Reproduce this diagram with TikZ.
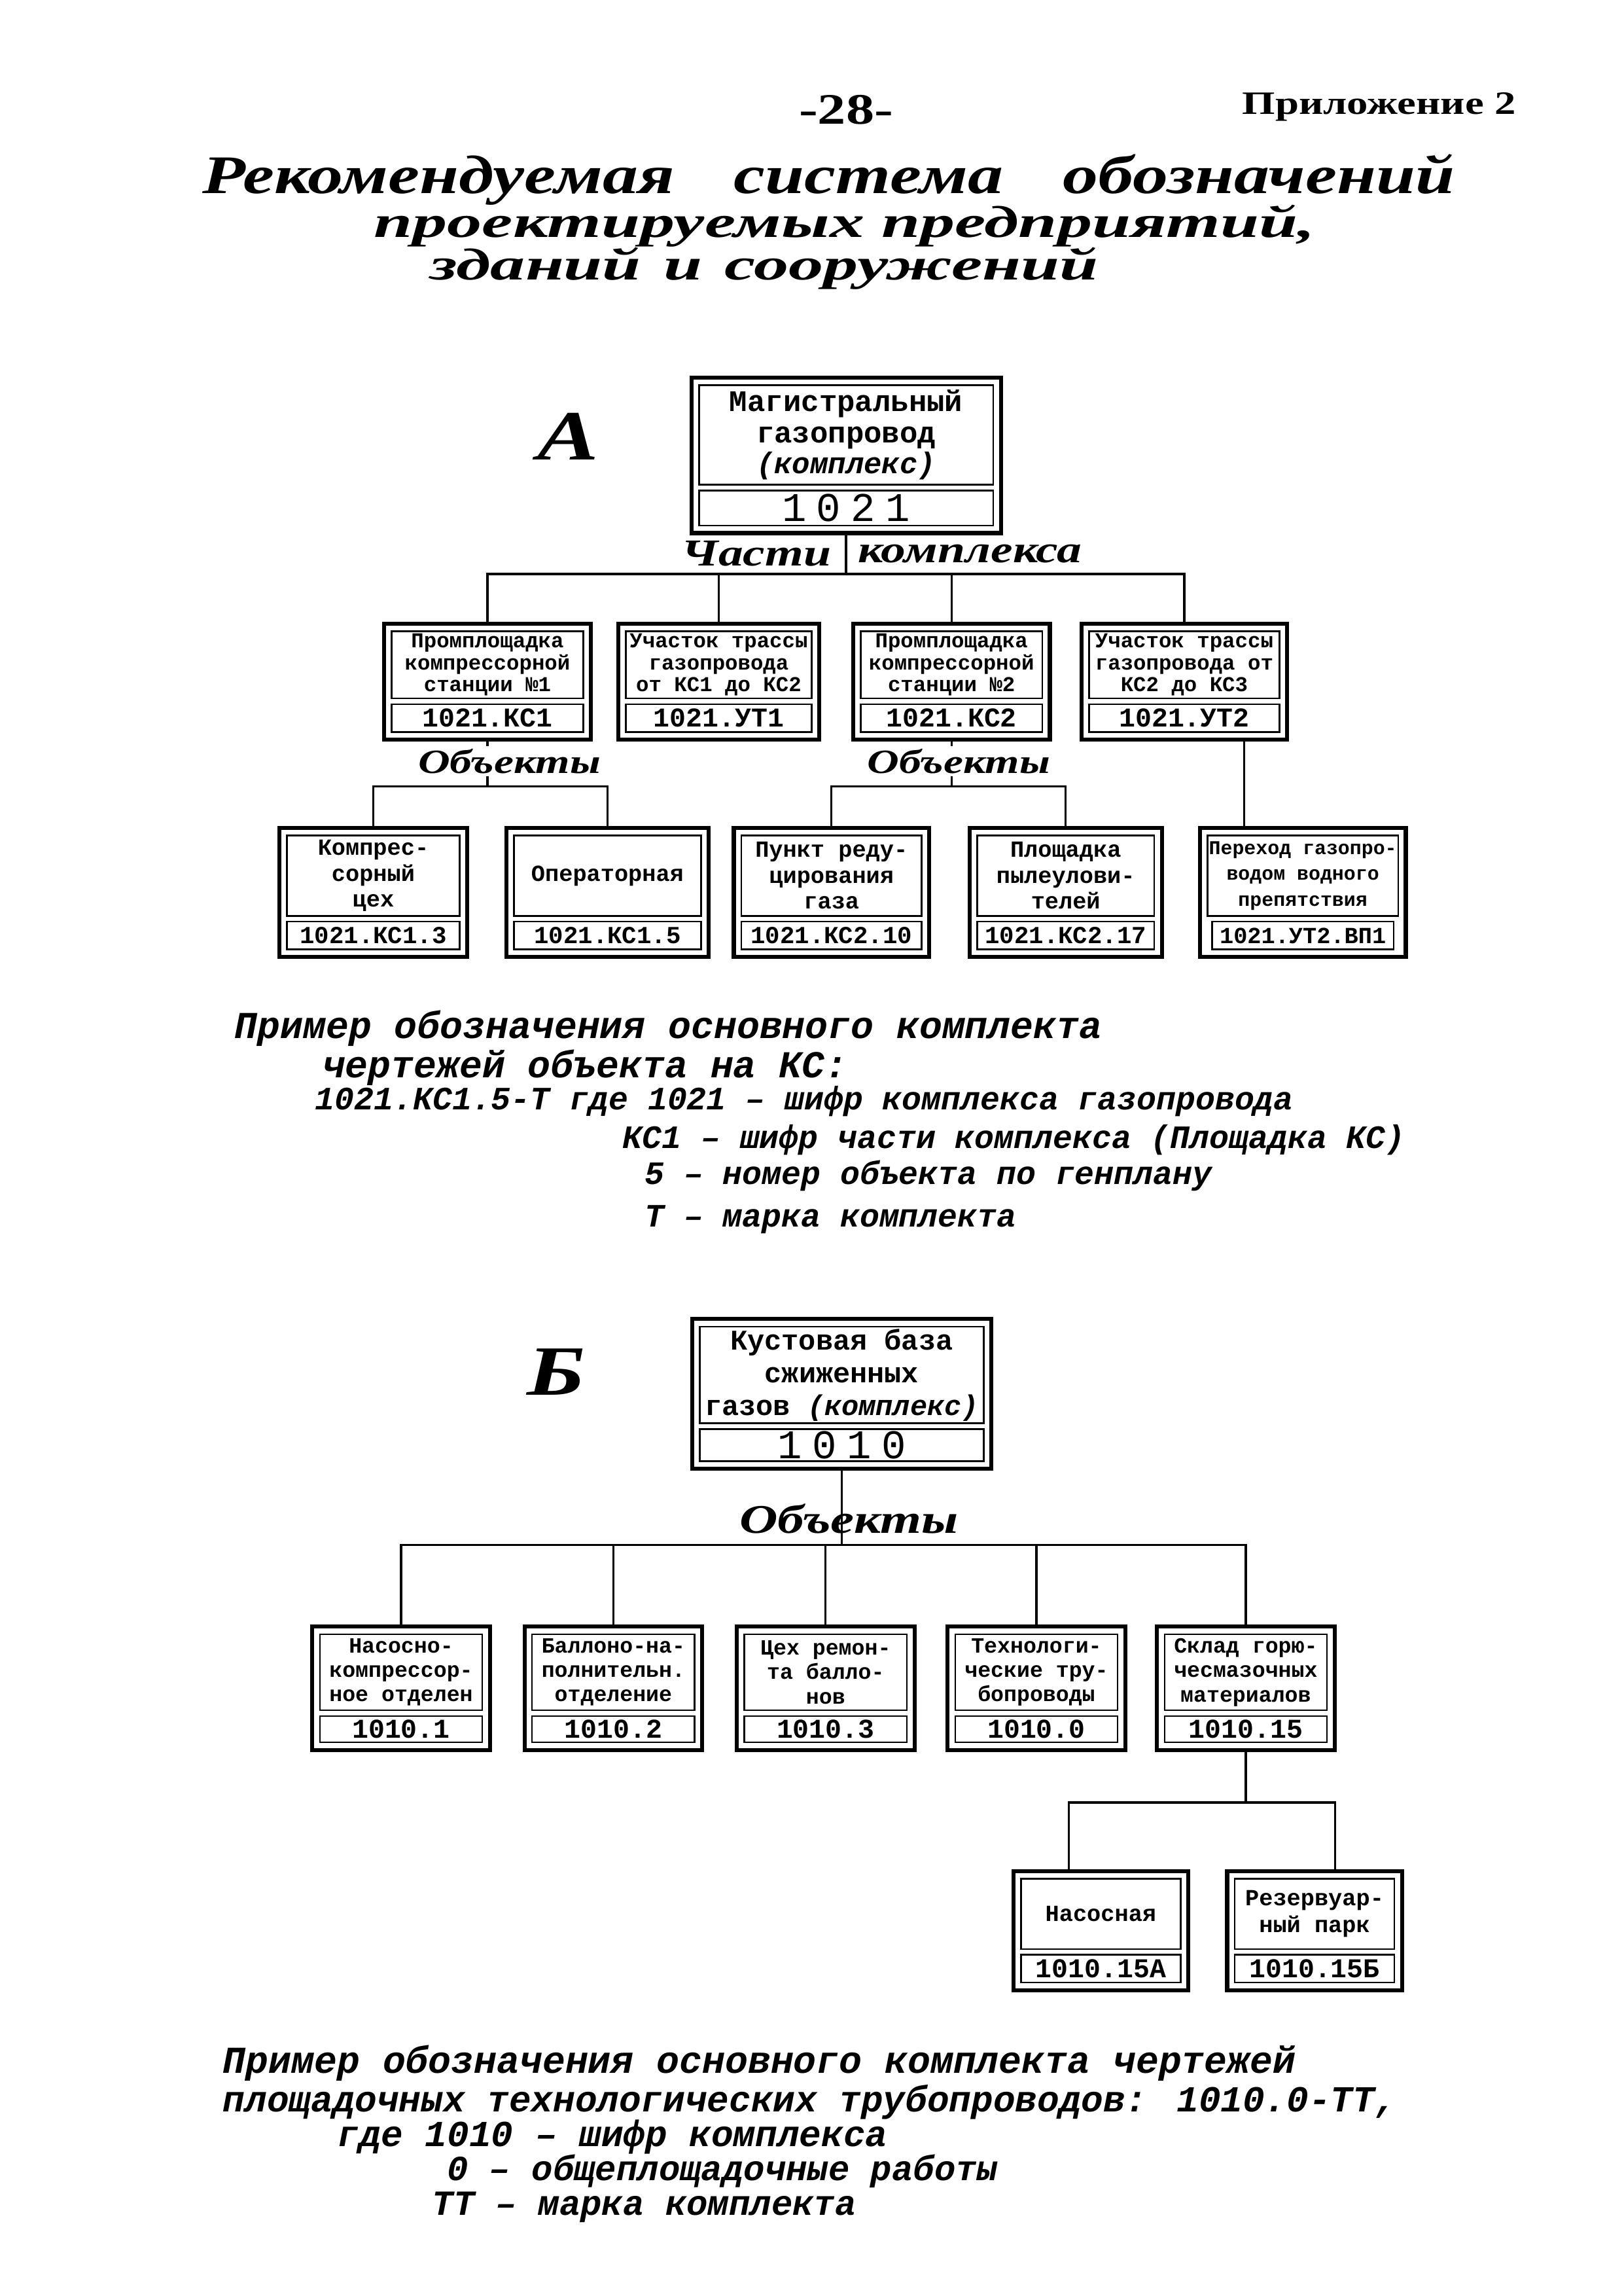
\documentclass[tikz,border=0pt]{standalone}
\usepackage{fontspec}
\setmainfont{Liberation Serif}
\newfontfamily\typefont{Liberation Mono}
\newfontfamily\titlefont[FakeStretch=1.3]{Liberation Serif}
\newfontfamily\widefont[FakeStretch=1.55]{Liberation Serif}
\usetikzlibrary{positioning,fit}

% one page pixel of the 1109 x 1568 sheet
\newcommand{\px}{0.018936cm}

\tikzset{
  part/.style={draw, line width=.6pt, inner sep=.5pt, align=center,
    font=\typefont\bfseries\fontsize{7.8}{8}\selectfont},
  code/.style={draw, line width=.6pt, inner sep=0pt,
    font=\typefont\bfseries\fontsize{10}{10}\selectfont},
  frame/.style={draw, line width=1.5pt, inner sep=2.5pt},
  link/.style={line width=.8pt},
  tag/.style={font=\titlefont\bfseries\itshape\fontsize{12.5}{12.5}\selectfont, inner sep=1pt},
  ttl/.style={font=\titlefont\bfseries\itshape\fontsize{20}{20}\selectfont, anchor=base, inner sep=0pt},
  subttl/.style={font=\widefont\bfseries\itshape\fontsize{16.5}{16.5}\selectfont, anchor=base, inner sep=0pt},
  note/.style={font=\typefont\bfseries\itshape\fontsize{12}{12}\selectfont, anchor=base west, inner sep=0pt},
}

% box with a name part and a code part: [font] name, x, y, width, h1, h2, text, code
\newcommand{\unitbox}[9][]{%
  \node[part, minimum width=#5*\px, minimum height=#6*\px, #1] (#2t) at (#3,#4) {#8};
  \node[code, minimum width=#5*\px, minimum height=#7*\px, below=1.5pt of #2t] (#2n) {#9};
  \node[frame, fit=(#2t)(#2n)] (#2) {};
}

\begin{document}
\begin{tikzpicture}[x=\px, y=-\px]
\useasboundingbox[fill=white] (0,0) rectangle (1109,1568);

% header and title
\node[font=\titlefont\bfseries\fontsize{16}{16}\selectfont] (page) at (578,75) {-28-};
\node[font=\titlefont\bfseries\fontsize{12}{12}\selectfont, anchor=east] (appx) at (1042,73) {Приложение 2};
\node[ttl] (ttl1) at (566,132) {Рекомендуемая\hspace{1.1em}система\hspace{1.1em}обозначений};
\node[subttl, text depth=0pt] (ttl2) at (577,162) {проектируемых предприятий,};
\node[subttl, text height=.45em] (ttl3) at (522,191) {зданий\hspace{.5em}и\hspace{.5em}сооружений};

% ---- A ----
\node[font=\titlefont\bfseries\itshape\fontsize{26}{26}\selectfont] (lblA) at (388,298) {А};

\node[part, font=\typefont\bfseries\fontsize{11}{11.5}\selectfont, minimum width=201*\px, minimum height=68*\px] (topAt) at (578,297) {Магистральный\\газопровод\\\textit{(комплекс)}};
\node[code, font=\typefont\fontsize{15}{15}\selectfont\addfontfeature{LetterSpace=25}, minimum width=201*\px, minimum height=24*\px, below=1.5pt of topAt] (topAn) {1021};
\node[frame, fit=(topAt)(topAn)] (topA) {};

\unitbox{ks1}{333}{454}{131}{46}{19}{Промплощадка\\компрессорной\\станции №1}{1021.КС1}
\unitbox{ut1}{491}{454}{127}{46}{19}{Участок трассы\\газопровода\\от КС1 до КС2}{1021.УТ1}
\unitbox{ks2}{650}{454}{124}{46}{19}{Промплощадка\\компрессорной\\станции №2}{1021.КС2}
\unitbox{ut2}{809}{454}{130}{46}{19}{Участок трассы\\газопровода от\\КС2 до КС3}{1021.УТ2}

\unitbox[font=\typefont\bfseries\fontsize{8.5}{9.5}\selectfont]{ks13}{255}{598}{118}{55}{19}{Компрес-\\сорный\\цех}{\fontsize{9}{9}\selectfont 1021.КС1.3}
\unitbox[font=\typefont\bfseries\fontsize{8.5}{9.5}\selectfont]{ks15}{415}{598}{128}{55}{19}{Операторная}{\fontsize{9}{9}\selectfont 1021.КС1.5}
\unitbox[font=\typefont\bfseries\fontsize{8.5}{9.5}\selectfont]{ks210}{568}{598}{123}{55}{19}{Пункт реду-\\цирования\\газа}{\fontsize{9}{9}\selectfont 1021.КС2.10}
\unitbox[font=\typefont\bfseries\fontsize{8.5}{9.5}\selectfont]{ks217}{728}{598}{121}{55}{19}{Площадка\\пылеулови-\\телей}{\fontsize{9}{9}\selectfont 1021.КС2.17}
\unitbox[font=\typefont\bfseries\fontsize{7.2}{9.5}\selectfont]{vp1}{890}{598}{124}{55}{19}{Переход газопро-\\водом водного\\препятствия}{\fontsize{8.5}{8.5}\selectfont 1021.УТ2.ВП1}

\coordinate (busA) at (578,392);
\draw[link] (topA.south) -- (busA);
\draw[link] (ks1.north) |- (busA) -| (ut2.north);
\draw[link] (ut1.north) -- (ut1.north |- busA);
\draw[link] (ks2.north) -- (ks2.north |- busA);
\node[tag, fill=white, anchor=east, font=\titlefont\bfseries\itshape\fontsize{14}{14}\selectfont] (partsA) at (570,378) {Части};
\node[tag, fill=white, anchor=west, font=\titlefont\bfseries\itshape\fontsize{14}{14}\selectfont] (partsB) at (584,378) {комплекса};

\coordinate (busA1) at (333,537);
\draw[link] (ks1.south) -- (busA1);
\draw[link] (ks13.north) |- (busA1) -| (ks15.north);
\coordinate (busA2) at (650,537);
\draw[link] (ks2.south) -- (busA2);
\draw[link] (ks210.north) |- (busA2) -| (ks217.north);
\coordinate (cut) at (850,0);
\draw[link] (ut2.south -| cut) -- (vp1.north -| cut);
\node[tag, fill=white] (objA1) at (348,520) {Объекты};
\node[tag, fill=white] (objA2) at (655,520) {Объекты};

% example for A
\node[note, font=\typefont\bfseries\itshape\fontsize{14}{14}\selectfont] (exA1) at (160,709) {Пример обозначения основного комплекта};
\node[note, font=\typefont\bfseries\itshape\fontsize{14}{14}\selectfont] (exA2) at (220,736) {чертежей объекта на КС:};
\node[note] (exA3) at (215,758) {1021.КС1.5-Т где 1021 – шифр комплекса газопровода};
\node[note] (exA4) at (425,784) {КС1 – шифр части комплекса (Площадка КС)};
\node[note] (exA5) at (440,809) {5 – номер объекта по генплану};
\node[note] (exA6) at (440,838) {Т – марка комплекта};

% ---- B ----
\node[font=\titlefont\bfseries\itshape\fontsize{26}{26}\selectfont] (lblB) at (380,937) {Б};

\node[part, font=\typefont\bfseries\fontsize{10.5}{12}\selectfont, minimum width=194*\px, minimum height=66*\px] (topBt) at (575,939) {Кустовая база\\сжиженных\\газов \textit{(комплекс)}};
\node[code, font=\typefont\fontsize{15}{15}\selectfont\addfontfeature{LetterSpace=25}, minimum width=194*\px, minimum height=22*\px, below=1.5pt of topBt] (topBn) {1010};
\node[frame, fit=(topBt)(topBn)] (topB) {};

\unitbox[font=\typefont\bfseries\fontsize{8}{9}\selectfont]{b1}{274}{1142}{111}{52}{18}{Насосно-\\компрессор-\\ное отделен}{1010.1}
\unitbox[font=\typefont\bfseries\fontsize{8}{9}\selectfont]{b2}{419}{1142}{111}{52}{18}{Баллоно-на-\\полнительн.\\отделение}{1010.2}
\unitbox[font=\typefont\bfseries\fontsize{8}{9}\selectfont]{b3}{564}{1142}{111}{52}{18}{Цех ремон-\\та балло-\\нов}{1010.3}
\unitbox[font=\typefont\bfseries\fontsize{8}{9}\selectfont]{b4}{708}{1142}{111}{52}{18}{Технологи-\\ческие тру-\\бопроводы}{1010.0}
\unitbox[font=\typefont\bfseries\fontsize{8}{9}\selectfont]{b5}{851}{1142}{111}{52}{18}{Склад горю-\\чесмазочных\\материалов}{1010.15}

\unitbox[font=\typefont\bfseries\fontsize{8.5}{10}\selectfont]{b15a}{752}{1307}{109}{48}{19}{Насосная}{1010.15А}
\unitbox[font=\typefont\bfseries\fontsize{8.5}{10}\selectfont]{b15b}{898}{1307}{109}{48}{19}{Резервуар-\\ный парк}{1010.15Б}

\coordinate (busB) at (575,1055);
\draw[link] (topB.south) -- (busB);
\draw[link] (b1.north) |- (busB) -| (b5.north);
\draw[link] (b2.north) -- (b2.north |- busB);
\draw[link] (b3.north) -- (b3.north |- busB);
\draw[link] (b4.north) -- (b4.north |- busB);
\node[tag, font=\titlefont\bfseries\itshape\fontsize{15}{15}\selectfont] (objB) at (580,1037) {Объекты};

\coordinate (busC) at (851,1231);
\coordinate (dropL) at (730,0);
\coordinate (dropR) at (912,0);
\draw[link] (b5.south) -- (busC);
\draw[link] (b15a.north -| dropL) |- (busC) -| (b15b.north -| dropR);

% example for B
\node[note, font=\typefont\bfseries\itshape\fontsize{14}{14}\selectfont] (exB1) at (152,1416) {Пример обозначения основного комплекта чертежей};
\node[note, font=\typefont\bfseries\itshape\fontsize{13.5}{13.5}\selectfont] (exB2) at (152,1442) {площадочных технологических трубопроводов: 1010.0-ТТ,};
\node[note, font=\typefont\bfseries\itshape\fontsize{13.5}{13.5}\selectfont] (exB3) at (230,1466) {где 1010 – шифр комплекса};
\node[note, font=\typefont\bfseries\itshape\fontsize{13}{13}\selectfont] (exB4) at (305,1489) {0 – общеплощадочные работы};
\node[note, font=\typefont\bfseries\itshape\fontsize{13}{13}\selectfont] (exB5) at (295,1513) {ТТ – марка комплекта};
\end{tikzpicture}
\end{document}
